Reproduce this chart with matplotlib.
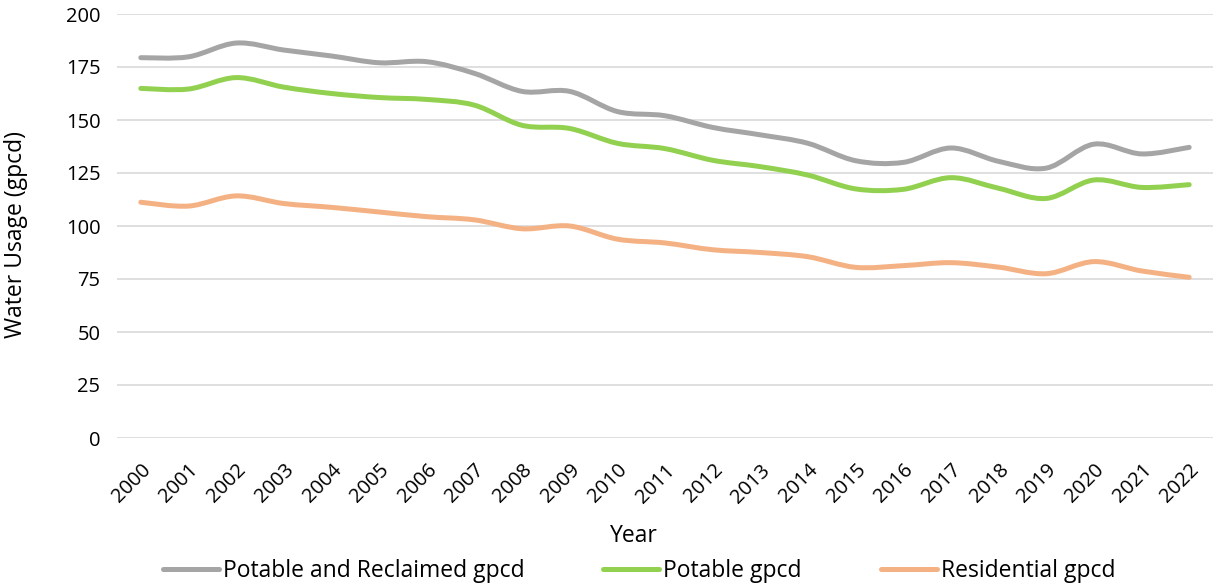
import matplotlib
matplotlib.use("Agg")
import matplotlib.pyplot as plt
import matplotlib.transforms as mtransforms
from matplotlib.path import Path
from matplotlib.patches import PathPatch
from matplotlib.lines import Line2D
import numpy as np

years = [str(y) for y in range(2000, 2023)]
potable_reclaimed = [179.4, 179.8, 186.3, 183.0, 180.2, 177.0, 177.5, 172.0, 163.5, 163.5,
                     154.0, 152.0, 146.5, 143.0, 139.0, 130.8, 130.0, 136.8, 130.5, 127.3,
                     138.6, 134.0, 137.1]
potable = [164.9, 164.6, 170.0, 165.5, 162.5, 160.6, 159.7, 157.0, 147.5, 146.0,
           139.0, 136.5, 131.0, 128.0, 124.0, 117.5, 117.3, 122.8, 117.8, 113.0,
           121.7, 118.2, 119.5]
residential = [111.2, 109.4, 114.2, 110.6, 108.8, 106.6, 104.4, 102.9, 98.7, 100.0,
               93.8, 92.0, 88.8, 87.5, 85.5, 80.5, 81.3, 82.7, 80.6, 77.5,
               83.2, 78.8, 75.8]
series_names = ["Potable and Reclaimed gpcd", "Potable gpcd", "Residential gpcd"]
colors = ["#A5A5A5", "#92D050", "#F4B183"]
yticks = [0, 25, 50, 75, 100, 125, 150, 175, 200]

plt.rcParams['font.family'] = ['Open Sans', 'DejaVu Sans']
FS = 14.5
FL = 16.5

fig = plt.figure(figsize=(12.13, 5.85), dpi=100)
W, H = 1213, 585
ax = fig.add_axes([117 / W, 1 - 438 / H, (W - 117) / W, (438 - 14) / H])


def smooth_path(xs, ys):
    pts = np.column_stack([xs, ys]).astype(float)
    n = len(pts)
    verts = [pts[0]]
    codes = [Path.MOVETO]
    for i in range(n - 1):
        p0 = pts[i - 1] if i > 0 else pts[i]
        p1 = pts[i]
        p2 = pts[i + 1]
        p3 = pts[i + 2] if i + 2 < n else pts[i + 1]
        c1 = p1 + (p2 - p0) / 6.0
        c2 = p2 - (p3 - p1) / 6.0
        verts += [c1, c2, p2]
        codes += [Path.CURVE4] * 3
    return Path(verts, codes)


x = np.arange(len(years))
for data, c in zip([potable_reclaimed, potable, residential], colors):
    patch = PathPatch(smooth_path(x, data), facecolor='none', edgecolor=c,
                      lw=3.6, capstyle='round', joinstyle='round', zorder=3)
    ax.add_patch(patch)

ax.set_xlim(-0.5, len(years) - 0.5)
ax.set_ylim(0, 200)
ax.set_yticks(yticks)
ax.set_yticklabels([str(v) for v in yticks], fontsize=FS)
ax.set_xticks(x)
ax.set_xticklabels(years, fontsize=FS, rotation=45, ha='right', va='top',
                   rotation_mode='anchor')
offset = mtransforms.ScaledTranslation(5 / 100, 0, fig.dpi_scale_trans)
for lab in ax.get_xticklabels():
    lab.set_transform(lab.get_transform() + offset)
ax.tick_params(axis='both', length=0)
ax.tick_params(axis='y', pad=12)
ax.tick_params(axis='x', pad=16)
ax.grid(axis='y', color='#D9D9D9', lw=1.2)
ax.set_axisbelow(True)
for s in ax.spines.values():
    s.set_visible(False)

fig.text(634 / W, 1 - 536 / H, "Year", fontsize=FL, ha='center', va='center')
fig.text(16 / W, 1 - 235 / H, "Water Usage (gpcd)", fontsize=FL, ha='center',
         va='center', rotation=90)

handles = [Line2D([0], [0], color=c, lw=3.6, solid_capstyle='round') for c in colors]
fig.legend(handles, series_names, loc='center', bbox_to_anchor=(639 / W, 1 - 571 / H),
           ncol=3, frameon=False, fontsize=FL, handlelength=2.45, handletextpad=0.17,
           columnspacing=3.45, borderaxespad=0, borderpad=0)

fig.savefig("out.png", dpi=100)
